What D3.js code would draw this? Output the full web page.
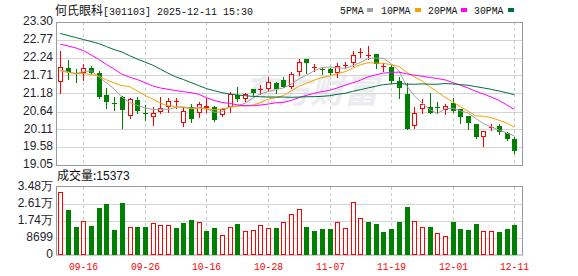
<!DOCTYPE html>
<html><head><meta charset="utf-8">
<script src="https://cdn.jsdelivr.net/npm/d3@7"></script>
<style>html,body{margin:0;padding:0;background:#fff;} svg{display:block;}</style>
</head><body>
<svg id="chart" width="578" height="276"></svg>
<script>
const stockName = "何氏眼科";
const stockCode = "301103";
const stampText = "2025-12-11 15:30";
const volTitle = "成交量";

const dates = ["09-11","09-12","09-15","09-16","09-17","09-18","09-19","09-22","09-23","09-24","09-25","09-26","09-29","09-30","10-09","10-10","10-13","10-14","10-15","10-16","10-17","10-20","10-21","10-22","10-23","10-24","10-27","10-28","10-29","10-30","10-31","11-03","11-04","11-05","11-06","11-07","11-10","11-11","11-12","11-13","11-14","11-17","11-18","11-19","11-20","11-21","11-24","11-25","11-26","11-27","11-28","12-01","12-02","12-03","12-04","12-05","12-08","12-09","12-10","12-11"];

const openP  = [21.53,21.92,21.78,21.79,21.92,21.79,21.13,20.88,21.08,20.52,20.98,20.60,20.49,20.62,20.76,20.92,20.29,20.78,20.60,20.75,20.78,20.54,20.76,21.12,21.00,21.30,21.29,21.31,21.48,21.58,21.38,21.82,22.19,21.93,21.90,21.89,21.77,22.01,22.07,22.38,22.30,22.35,21.96,21.97,21.55,21.16,20.21,20.71,20.77,20.77,20.68,20.90,20.71,20.51,20.27,19.89,20.16,20.21,19.99,19.81];
const highP  = [22.44,22.17,21.89,22.04,21.99,21.85,21.33,21.08,21.11,21.03,21.06,20.83,20.78,21.06,21.03,21.05,20.78,20.86,20.93,21.03,20.80,20.75,21.23,21.36,21.18,21.30,21.43,21.67,21.53,21.67,21.82,22.19,22.19,22.04,21.97,21.92,22.09,22.12,22.45,22.52,22.59,22.35,22.07,22.02,21.67,21.48,20.78,21.01,21.20,20.93,20.86,21.03,20.71,20.51,20.27,20.07,20.27,20.27,20.04,19.89];
const lowP   = [21.18,21.60,21.53,21.58,21.78,21.03,20.75,20.68,20.16,20.44,20.60,20.39,20.24,20.60,20.63,20.75,20.22,20.34,20.47,20.63,20.37,20.51,20.63,20.96,20.96,21.13,21.16,21.26,21.18,21.38,21.33,21.72,21.79,21.85,21.75,21.75,21.66,21.92,21.99,22.25,22.19,21.94,21.84,21.48,21.05,20.11,20.14,20.60,20.60,20.59,20.57,20.63,20.31,20.11,19.84,19.61,20.09,19.97,19.79,19.42];
const closeP = [21.97,21.82,21.74,21.92,21.79,21.08,20.93,20.85,20.68,21.00,20.66,20.57,20.59,20.74,20.95,20.94,20.66,20.41,20.86,20.80,20.39,20.71,21.15,21.02,21.15,21.18,21.31,21.51,21.30,21.38,21.75,22.10,22.09,21.95,21.88,21.77,21.99,22.03,22.32,22.40,22.33,22.05,21.98,21.56,21.33,20.11,20.59,20.86,20.60,20.75,20.81,20.66,20.49,20.29,19.89,20.06,20.18,20.04,19.83,19.48];
const volume = [32371,23267,14162,17551,14668,24278,26302,12645,26807,14516,14162,14162,16540,15528,15528,13657,16186,17703,17045,12139,13657,10470,14516,15680,12139,12645,15528,13657,13657,17045,21092,23620,14162,12139,13151,13151,17045,14011,27161,19069,16691,15680,11633,13151,16691,24784,17551,14516,14162,11482,9964,16691,13151,12645,15680,12493,12493,11633,13151,15373];

const ma5  = [21.87,21.82,21.77,21.82,21.85,21.67,21.49,21.31,21.07,20.91,20.82,20.75,20.70,20.71,20.70,20.76,20.78,20.74,20.76,20.73,20.62,20.63,20.78,20.81,20.88,21.04,21.16,21.23,21.29,21.34,21.45,21.61,21.72,21.85,21.95,21.96,21.94,21.92,22.00,22.10,22.21,22.23,22.22,22.06,21.85,21.41,21.11,20.89,20.70,20.58,20.72,20.74,20.66,20.60,20.43,20.28,20.18,20.09,20.00,19.92];
const ma10 = [21.85,21.80,21.76,21.77,21.74,21.70,21.58,21.49,21.41,21.38,21.25,21.12,21.01,20.89,20.81,20.79,20.76,20.72,20.74,20.72,20.69,20.71,20.76,20.79,20.81,20.83,20.90,21.01,21.05,21.11,21.25,21.39,21.48,21.57,21.65,21.70,21.77,21.82,21.93,22.03,22.09,22.08,22.07,22.03,21.98,21.81,21.67,21.55,21.38,21.22,21.06,20.93,20.78,20.65,20.51,20.50,20.46,20.38,20.30,20.17];
const ma20 = [22.64,22.59,22.53,22.45,22.32,22.19,22.04,21.90,21.75,21.66,21.59,21.50,21.40,21.34,21.30,21.26,21.23,21.20,21.15,21.05,20.97,20.91,20.88,20.84,20.81,20.81,20.83,20.86,20.90,20.91,20.97,21.05,21.12,21.18,21.23,21.27,21.34,21.42,21.49,21.57,21.67,21.73,21.78,21.80,21.81,21.76,21.72,21.69,21.65,21.62,21.58,21.50,21.42,21.34,21.24,21.16,21.07,20.97,20.84,20.70];
const ma30 = [22.96,22.90,22.84,22.78,22.72,22.66,22.57,22.48,22.41,22.30,22.20,22.11,22.02,21.90,21.78,21.67,21.59,21.50,21.41,21.32,21.26,21.20,21.16,21.13,21.11,21.09,21.08,21.07,21.07,21.07,21.06,21.07,21.08,21.08,21.09,21.11,21.15,21.18,21.24,21.29,21.34,21.39,21.44,21.46,21.48,21.45,21.45,21.46,21.45,21.45,21.47,21.46,21.44,21.42,21.38,21.34,21.30,21.25,21.20,21.14];

const maNames  = ["5PMA","10PMA","20PMA","30PMA"];
const xTickDates = ["09-16","09-26","10-16","10-28","11-07","11-19","12-01","12-11"];
const yTickLabels = ["23.30","22.77","22.24","21.71","21.18","20.64","20.11","19.58","19.05"];
const volTickValues = [0, 8699, 17398, 26097, 34796];
const volTickLabels = ["0","8699","1.74万","2.61万","3.48万"];
const watermark = "东方财富";

// ---------- drawing ----------
const RED = "#ff0000", GREEN = "#008000";
const maColors = ["#a0a0a0", "#f2a300", "#ff00ff", "#006e3c"];
const maSeries = [ma5, ma10, ma20, ma30];

const svg = d3.select("#chart");
const L = 56, R = 522, T = 22, B = 165, VT = 187, VB = 255;

const x = d3.scaleBand().domain(dates).range([56.4, 518.1]).padding(0);
const cxf = d => x(d) + x.bandwidth() / 2;
const cpx = d => Math.round(cxf(d));
const y = d3.scaleLinear().domain([19.05, 23.30]).range([B, T]);
const yv = d3.scaleLinear().domain([0, 34796]).range([VB, VT]);

svg.append("rect").attr("width", 578).attr("height", 276).attr("fill", "#fff");

// watermark
svg.append("text").attr("x", 243).attr("y", 103)
  .attr("font-family", "Noto Sans CJK SC").attr("font-weight", 700).attr("font-style", "italic")
  .attr("font-size", 34).attr("fill", "#ececf0").attr("textLength", 135).text(watermark);

// horizontal grid - price
const gH = svg.append("g").attr("stroke", "#d4d4d4").attr("stroke-width", 1);
yTickLabels.slice(1, -1).forEach(t => {
  const yy = Math.round(y(+t)) + 0.5;
  gH.append("line").attr("x1", L).attr("x2", R).attr("y1", yy).attr("y2", yy);
});
volTickValues.slice(1, -1).forEach(v => {
  const yy = Math.round(yv(v)) + 0.5;
  gH.append("line").attr("x1", L).attr("x2", R).attr("y1", yy).attr("y2", yy);
});

// vertical dashed grid
const gV = svg.append("g").attr("stroke", "#c8c8c8").attr("stroke-width", 1).attr("stroke-dasharray", "3,3");
xTickDates.forEach(d => {
  const xx = cpx(d) + 0.5;
  gV.append("line").attr("x1", xx).attr("x2", xx).attr("y1", T).attr("y2", B);
  gV.append("line").attr("x1", xx).attr("x2", xx).attr("y1", VT).attr("y2", VB);
});

// borders
svg.append("rect").attr("x", L + 0.5).attr("y", T + 0.5).attr("width", R - L).attr("height", B - T)
  .attr("fill", "none").attr("stroke", "#9a9a9a");
svg.append("rect").attr("x", L + 0.5).attr("y", VT - 0.5).attr("width", R - L).attr("height", VB - VT + 0.5)
  .attr("fill", "none").attr("stroke", "#9a9a9a");

const data = dates.map((d, i) => ({
  d, o: openP[i], h: highP[i], l: lowP[i], c: closeP[i], v: volume[i],
  up: closeP[i] >= openP[i],
  vup: i === 0 ? closeP[0] >= openP[0] : closeP[i] >= closeP[i - 1]
}));

// candles
const gC = svg.append("g");
data.forEach(k => {
  const c = cpx(k.d);
  const col = k.up ? RED : GREEN;
  gC.append("line").attr("x1", c + 0.5).attr("x2", c + 0.5)
    .attr("y1", Math.round(y(k.h))).attr("y2", Math.round(y(k.l)) + 1)
    .attr("stroke", col).attr("stroke-width", 1);
  const yt = Math.round(y(Math.max(k.o, k.c)));
  const yb = Math.round(y(Math.min(k.o, k.c)));
  if (!k.up) {
    gC.append("rect").attr("x", c - 2).attr("y", yt).attr("width", 5).attr("height", Math.max(1, yb - yt))
      .attr("fill", GREEN);
  } else if (yb - yt <= 1) {
    gC.append("rect").attr("x", c - 2).attr("y", yt).attr("width", 5).attr("height", 1).attr("fill", RED);
  } else {
    gC.append("rect").attr("x", c - 1.5).attr("y", yt + 0.5).attr("width", 4).attr("height", yb - yt - 1)
      .attr("fill", "#fff").attr("stroke", RED).attr("stroke-width", 1);
  }
});

// moving averages
maSeries.forEach((s, j) => {
  svg.append("path").datum(s)
    .attr("d", d3.line().x((v, i) => cxf(dates[i])).y(v => y(v)))
    .attr("fill", "none").attr("stroke", maColors[j]).attr("stroke-width", 1);
});

// volume bars
const gB = svg.append("g");
data.forEach(k => {
  const c = cpx(k.d);
  const top = Math.round(yv(k.v));
  if (k.vup) {
    gB.append("rect").attr("x", c - 1.5).attr("y", top + 0.5).attr("width", 4).attr("height", VB - top - 1)
      .attr("fill", "#fff").attr("stroke", RED).attr("stroke-width", 1);
  } else {
    gB.append("rect").attr("x", c - 2).attr("y", top).attr("width", 5).attr("height", VB - top).attr("fill", GREEN);
  }
});

// y labels
const gY = svg.append("g").attr("font-family", "Liberation Sans, Arial, sans-serif").attr("font-size", 12)
  .attr("fill", "#1f1f2e").attr("text-anchor", "end");
yTickLabels.forEach(t => {
  gY.append("text").attr("x", 53).attr("y", y(+t) - 1).attr("dy", "0.35em").text(t);
});
volTickValues.forEach((v, i) => {
  gY.append("text").attr("x", 53).attr("y", yv(v) - 1).attr("dy", "0.35em").text(volTickLabels[i]);
});

// x labels
const gX = svg.append("g").attr("font-family", "Liberation Mono, DejaVu Sans Mono, monospace").attr("font-size", 11)
  .attr("fill", RED).attr("text-anchor", "middle");
xTickDates.forEach(d => {
  gX.append("text").attr("x", cpx(d) + 0.5).attr("y", 270).attr("textLength", 29).attr("lengthAdjust", "spacingAndGlyphs").text(d);
});

// title
const title = svg.append("text").attr("x", 55).attr("y", 15).attr("font-size", 12).attr("fill", "#111");
title.append("tspan").attr("font-family", "Noto Sans CJK SC").text(stockName);
title.append("tspan").attr("font-family", "Liberation Mono, monospace").attr("font-size", 11.5)
  .attr("textLength", 150).attr("lengthAdjust", "spacingAndGlyphs")
  .text("[" + stockCode + "] " + stampText);

// legend
const legX = [340, 381, 428, 474];
const legSq = [367, 415, 461, 508];
maNames.forEach((n, j) => {
  svg.append("text").attr("x", legX[j]).attr("y", 14).attr("font-family", "Liberation Mono, monospace")
    .attr("font-size", 11).attr("fill", "#111").attr("textLength", n.length * 5.9).attr("lengthAdjust", "spacingAndGlyphs").text(n);
  svg.append("rect").attr("x", legSq[j]).attr("y", 8).attr("width", 6).attr("height", 4).attr("fill", maColors[j]);
});

// volume title
const vt = svg.append("text").attr("x", 57).attr("y", 180).attr("font-size", 12).attr("fill", "#111");
vt.append("tspan").attr("font-family", "Noto Sans CJK SC").text(volTitle + ":");
vt.append("tspan").attr("font-family", "Liberation Sans, Arial, sans-serif").text(String(volume[volume.length - 1]));
</script>
</body></html>
